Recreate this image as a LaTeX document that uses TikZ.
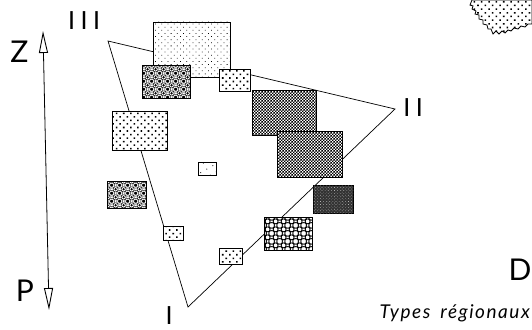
\documentclass[tikz,border=0pt]{standalone}
\usepackage{fontspec}
\setmainfont{Lato}
\usetikzlibrary{arrows.meta,patterns,patterns.meta}
\pgfdeclarepatternformonly{checker}{\pgfpointorigin}{\pgfpoint{3.4pt}{3.4pt}}{\pgfpoint{3.4pt}{3.4pt}}{%
  \pgfpathrectangle{\pgfpointorigin}{\pgfpoint{1.7pt}{1.7pt}}%
  \pgfpathrectangle{\pgfpoint{1.7pt}{1.7pt}}{\pgfpoint{1.7pt}{1.7pt}}%
  \pgfusepath{fill}}
\pgfdeclarepatternformonly{rings}{\pgfpointorigin}{\pgfpoint{8pt}{8pt}}{\pgfpoint{8pt}{8pt}}{%
  \pgfsetlinewidth{0.9pt}%
  \pgfpathcircle{\pgfpoint{0pt}{0pt}}{2.7pt}%
  \pgfpathcircle{\pgfpoint{8pt}{0pt}}{2.7pt}%
  \pgfpathcircle{\pgfpoint{0pt}{8pt}}{2.7pt}%
  \pgfpathcircle{\pgfpoint{8pt}{8pt}}{2.7pt}%
  \pgfpathcircle{\pgfpoint{4pt}{4pt}}{2.7pt}%
  \pgfusepath{stroke}}
\pgfdeclarepatternformonly{netdots}{\pgfpointorigin}{\pgfpoint{8pt}{8pt}}{\pgfpoint{8pt}{8pt}}{%
  \pgfsetlinewidth{0.4pt}%
  \pgfpathcircle{\pgfpoint{0pt}{0pt}}{2.8pt}%
  \pgfpathcircle{\pgfpoint{8pt}{0pt}}{2.8pt}%
  \pgfpathcircle{\pgfpoint{0pt}{8pt}}{2.8pt}%
  \pgfpathcircle{\pgfpoint{8pt}{8pt}}{2.8pt}%
  \pgfpathcircle{\pgfpoint{4pt}{4pt}}{2.8pt}%
  \pgfusepath{stroke}%
  \pgfpathcircle{\pgfpoint{0pt}{0pt}}{1.4pt}%
  \pgfpathcircle{\pgfpoint{8pt}{0pt}}{1.4pt}%
  \pgfpathcircle{\pgfpoint{0pt}{8pt}}{1.4pt}%
  \pgfpathcircle{\pgfpoint{8pt}{8pt}}{1.4pt}%
  \pgfpathcircle{\pgfpoint{4pt}{4pt}}{1.4pt}%
  \pgfusepath{fill}}
\tikzset{
  box/.style={draw=black, line width=0.9pt, rectangle, inner sep=0pt, preaction={fill=white}},
  sparsedots/.style={pattern={Dots[radius=0.55pt, distance=4.4pt, angle=45]}},
  meddots/.style={pattern={Dots[radius=1.1pt, distance=5pt, angle=45]}},
  fewdots/.style={pattern={Dots[radius=0.6pt, distance=7pt, angle=30]}},
  checkpat/.style={pattern=checker},
  ringpat/.style={pattern=rings},
  netpat/.style={pattern=netdots},
  darkpat/.style={fill=black!80, postaction={pattern={Dots[radius=0.45pt, distance=2.2pt, angle=45]}, pattern color=white!70!black}},
  edge/.style={line width=0.7pt},
  lab/.style={font=\fontsize{30}{30}\selectfont, inner sep=0pt},
  roman/.style={font=\fontsize{25}{25}\selectfont\addfontfeatures{LetterSpace=22}, inner sep=0pt},
}
\begin{document}
\begin{tikzpicture}[x=1pt,y=-1pt]
\useasboundingbox (0,0) rectangle (532,329);
% triangle vertices
\coordinate (vIII) at (108,41);
\coordinate (vII) at (395,109);
\coordinate (vI) at (188,307);
\draw[edge] (vIII) -- (vII) -- (vI) -- cycle;
% Z-P axis
\coordinate (zt) at (43,31);
\coordinate (zb) at (49,310);
\draw[line width=0.8pt, {Triangle[open, length=22pt, width=9pt, line width=0.9pt]}-{Triangle[open, length=22pt, width=9pt, line width=0.9pt]}] (zt) -- (zb);
% rectangles
\node[box, sparsedots, minimum width=77pt, minimum height=55pt] (r1) at (191.5,49.5) {};
\node[box, netpat, minimum width=48pt, minimum height=33pt] (r2) at (166,81.5) {};
\node[box, meddots, minimum width=31pt, minimum height=22pt] (r3) at (235,80) {};
\node[box, meddots, minimum width=55pt, minimum height=39pt] (r4) at (139.5,130.5) {};
\node[box, checkpat, minimum width=64pt, minimum height=45pt] (r5) at (284.5,112.5) {};
\node[box, checkpat, minimum width=65pt, minimum height=46pt] (r6) at (309.5,154) {};
\node[box, fewdots, minimum width=18pt, minimum height=13pt] (r7) at (207,168.5) {};
\node[box, netpat, minimum width=39pt, minimum height=27pt] (r8) at (126.5,194.5) {};
\node[box, darkpat, minimum width=40pt, minimum height=28pt] (r9) at (333,199) {};
\node[box, ringpat, minimum width=48pt, minimum height=33pt] (r10) at (288,233.5) {};
\node[box, meddots, minimum width=20pt, minimum height=14pt] (r11) at (173,233) {};
\node[box, meddots, minimum width=23pt, minimum height=16pt] (r12) at (230.5,256) {};
% top-right jagged map fragment
\draw[line width=0.8pt, preaction={fill=white}, pattern={Dots[radius=1.1pt, distance=5.2pt, angle=45]}]
  (472,0) -- (470,5) -- (473,6) -- (472,9) -- (476,11) -- (475,14) -- (479,15) -- (479,19) -- (483,20) -- (483,24)
  -- (487,25) -- (488,29) -- (491,29) -- (493,34) -- (496,31) -- (499,34) -- (502,31) -- (505,33) -- (508,30)
  -- (511,31) -- (514,28) -- (518,29) -- (521,26) -- (525,27) -- (528,24) -- (532,24) -- (532,0) -- cycle;
% labels
\node[lab] (lZ) at (19.5,52) {Z};
\node[lab] (lP) at (25,291) {P};
\node[lab] (lD) at (520,270) {D};
\node[roman] (lIII) at (84,21) {III};
\node[roman] (lII) at (413,108) {II};
\node[roman, anchor=base] (lI) at (169,324) {I};
\node[inner sep=0pt, anchor=base east, font=\fontsize{19}{19}\selectfont\itshape\addfontfeatures{LetterSpace=8}] (ltypes) at (530,318) {Types\hspace{4pt} régionaux};
\end{tikzpicture}
\end{document}
